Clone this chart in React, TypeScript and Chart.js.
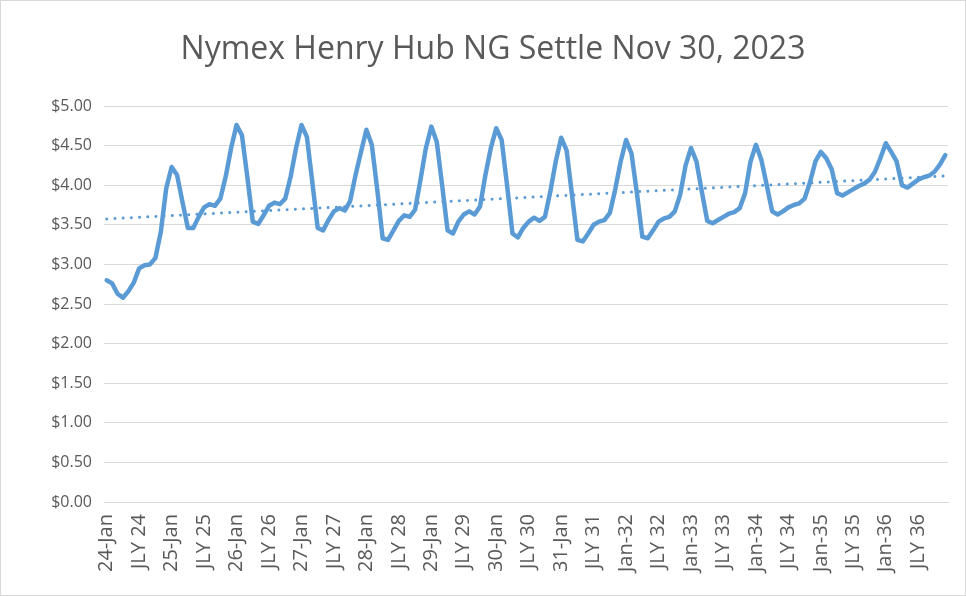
import React, { useEffect, useRef } from "react";
import { Chart, registerables } from "chart.js";

Chart.register(...registerables);

const TITLE = "Nymex Henry Hub NG Settle Nov 30, 2023";

// Monthly settle prices ($/MMBtu), Jan..Dec of each contract year
const settle2024 = [2.80, 2.76, 2.63, 2.58, 2.66, 2.77, 2.95, 2.99, 3.00, 3.08, 3.41, 3.96];
const settle2025 = [4.23, 4.13, 3.79, 3.46, 3.46, 3.60, 3.72, 3.76, 3.74, 3.83, 4.11, 4.47];
const settle2026 = [4.76, 4.63, 4.10, 3.54, 3.51, 3.62, 3.74, 3.78, 3.76, 3.83, 4.11, 4.47];
const settle2027 = [4.76, 4.61, 4.04, 3.46, 3.43, 3.56, 3.67, 3.71, 3.68, 3.80, 4.13, 4.42];
const settle2028 = [4.70, 4.51, 3.95, 3.33, 3.31, 3.43, 3.55, 3.62, 3.60, 3.69, 4.07, 4.47];
const settle2029 = [4.74, 4.55, 4.00, 3.43, 3.39, 3.54, 3.63, 3.67, 3.63, 3.73, 4.13, 4.47];
const settle2030 = [4.72, 4.57, 4.00, 3.39, 3.34, 3.46, 3.54, 3.59, 3.55, 3.60, 3.92, 4.30];
const settle2031 = [4.60, 4.44, 3.88, 3.31, 3.29, 3.39, 3.50, 3.54, 3.56, 3.65, 3.95, 4.30];
const settle2032 = [4.57, 4.40, 3.90, 3.35, 3.33, 3.43, 3.54, 3.58, 3.60, 3.67, 3.88, 4.25];
const settle2033 = [4.47, 4.30, 3.92, 3.55, 3.52, 3.56, 3.60, 3.64, 3.66, 3.71, 3.90, 4.30];
const settle2034 = [4.51, 4.32, 4.00, 3.67, 3.63, 3.67, 3.72, 3.75, 3.77, 3.83, 4.04, 4.30];
const settle2035 = [4.42, 4.34, 4.20, 3.90, 3.87, 3.91, 3.95, 3.99, 4.02, 4.07, 4.17, 4.34];
const settle2036 = [4.53, 4.42, 4.30, 4.00, 3.97, 4.02, 4.07, 4.10, 4.12, 4.17, 4.26, 4.38];

const years = [2024, 2025, 2026, 2027, 2028, 2029, 2030, 2031, 2032, 2033, 2034, 2035, 2036];
const monthNames = ["Jan", "Feb", "Mar", "Apr", "May", "Jun", "Jul", "Aug", "Sep", "Oct", "Nov", "Dec"];

// Axis labels shown every 6 months (as printed on the original chart)
const tickLabels = [
  "24-Jan", "JLY 24", "25-Jan", "JLY 25", "26-Jan", "JLY 26", "27-Jan", "JLY 27",
  "28-Jan", "JLY 28", "29-Jan", "JLY 29", "30-Jan", "JLY 30", "31-Jan", "JLY 31",
  "Jan-32", "JLY 32", "Jan-33", "JLY 33", "Jan-34", "JLY 34", "Jan-35", "JLY 35",
  "Jan-36", "JLY 36",
];

const yTicks = [0, 0.5, 1, 1.5, 2, 2.5, 3, 3.5, 4, 4.5, 5];

const settle = [
  ...settle2024, ...settle2025, ...settle2026, ...settle2027, ...settle2028,
  ...settle2029, ...settle2030, ...settle2031, ...settle2032, ...settle2033,
  ...settle2034, ...settle2035, ...settle2036,
];
const categories = years.flatMap((y) => monthNames.map((m) => `${m} ${y}`));

// Linear trendline (least squares), as Excel computes it
function linearTrend(values: number[]) {
  const n = values.length;
  let sx = 0, sy = 0, sxx = 0, sxy = 0;
  values.forEach((v, i) => {
    sx += i; sy += v; sxx += i * i; sxy += i * v;
  });
  const b = (n * sxy - sx * sy) / (n * sxx - sx * sx);
  const a = (sy - b * sx) / n;
  return values.map((_, i) => a + b * i);
}

const BLUE = "#5B9BD5";
const TEXT = "#595959";
const GRID = "#D9D9D9";
const FONT = "'Open Sans', 'Noto Sans', sans-serif";

const decorPlugin = {
  id: "decor",
  afterDraw(chart: any) {
    const ctx = chart.ctx;
    ctx.save();
    ctx.font = `32px ${FONT}`;
    ctx.fillStyle = TEXT;
    ctx.textAlign = "center";
    ctx.textBaseline = "middle";
    ctx.fillText(TITLE, 493, 50);
    ctx.strokeStyle = GRID;
    ctx.lineWidth = 1;
    ctx.strokeRect(0.5, 0.5, chart.width - 1, chart.height - 1);
    ctx.restore();
  },
};

export default function App() {
  const ref = useRef<HTMLCanvasElement>(null);

  useEffect(() => {
    document.body.style.margin = "0";
    const canvas = ref.current;
    if (!canvas) return;
    const chart = new Chart(canvas, {
      type: "line",
      data: {
        labels: categories,
        datasets: [
          {
            label: "Settle",
            data: settle,
            borderColor: BLUE,
            backgroundColor: BLUE,
            borderWidth: 4.5,
            borderJoinStyle: "round",
            borderCapStyle: "round",
            pointRadius: 0,
            tension: 0,
            order: 2,
          },
          {
            label: "Linear (Settle)",
            data: linearTrend(settle),
            borderColor: BLUE,
            borderWidth: 3,
            borderDash: [0.01, 8.2],
            borderCapStyle: "round",
            pointRadius: 0,
            tension: 0,
            order: 1,
          },
        ],
      },
      options: {
        animation: false,
        responsive: false,
        maintainAspectRatio: false,
        layout: { padding: { top: 106, right: 18, left: 0, bottom: 0 } },
        plugins: {
          legend: { display: false },
          title: { display: false },
          tooltip: { enabled: false },
        },
        scales: {
          x: {
            type: "category",
            offset: true,
            grid: { display: false, drawTicks: false },
            border: { display: true, color: GRID, width: 1 },
            ticks: {
              autoSkip: false,
              maxRotation: 90,
              minRotation: 90,
              padding: 12,
              color: TEXT,
              font: { family: FONT, size: 20 },
              callback: (_v: any, i: number) => (i % 6 === 0 ? tickLabels[i / 6] : null),
            },
            afterFit: (axis: any) => {
              axis.height = 94;
            },
          },
          y: {
            min: 0,
            max: 5,
            afterBuildTicks: (axis: any) => {
              axis.ticks = yTicks.map((v) => ({ value: v }));
            },
            grid: { color: GRID, lineWidth: 1, drawTicks: false },
            border: { display: false },
            ticks: {
              padding: 12,
              color: TEXT,
              font: { family: FONT, size: 16 },
              callback: (v: any) => "$" + Number(v).toFixed(2),
            },
            afterFit: (axis: any) => {
              axis.width = 104;
            },
          },
        },
      },
      plugins: [decorPlugin],
    });
    return () => chart.destroy();
  }, []);

  return (
    <div style={{ width: 966, height: 596, background: "#fff" }}>
      <canvas ref={ref} width={966} height={596} />
    </div>
  );
}
